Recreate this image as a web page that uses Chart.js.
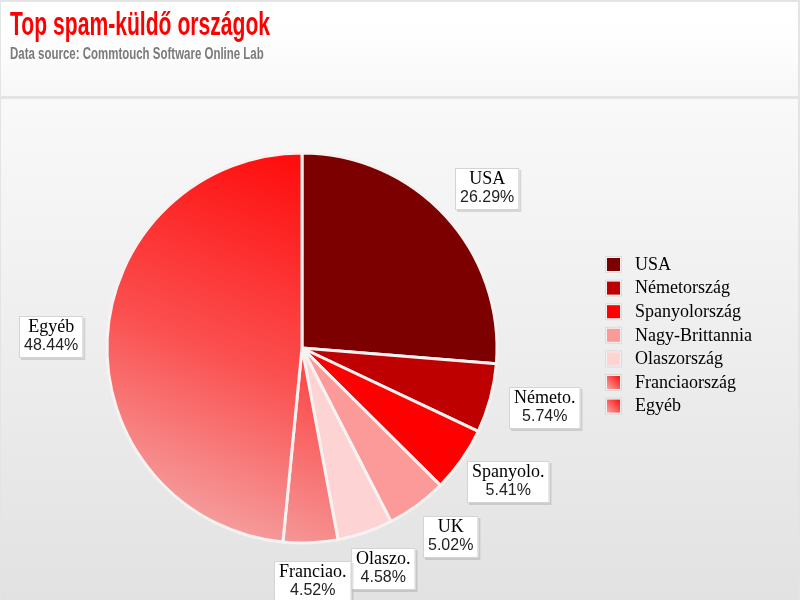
<!DOCTYPE html>
<html>
<head>
<meta charset="utf-8">
<title>Top spam-küldő országok</title>
<script src="https://cdn.jsdelivr.net/npm/chart.js@4/dist/chart.umd.min.js"></script>
<style>
  html, body { margin: 0; padding: 0; background: #fff; }
  #wrap { width: 800px; height: 600px; position: relative; }
</style>
</head>
<body>
<div id="wrap"><canvas id="spamChart" width="800" height="600"></canvas></div>
<script>
'use strict';

const titleText = 'Top spam-küldő országok';
const subtitleText = 'Data source: Commtouch Software Online Lab';

// legend names and short names used in the slice labels
const countries = ['USA', 'Németország', 'Spanyolország', 'Nagy-Brittannia', 'Olaszország', 'Franciaország', 'Egyéb'];
const shortNames = ['USA', 'Németo.', 'Spanyolo.', 'UK', 'Olaszo.', 'Franciao.', 'Egyéb'];
const shares = [26.29, 5.74, 5.41, 5.02, 4.58, 4.52, 48.44];

const solidColors = ['#7d0000', '#be0000', '#ff0000', '#fc9a9a', '#fdd3d3', null, null];

const SERIF = '"Liberation Serif", "DejaVu Serif", serif';
const SANS = '"Liberation Sans", Arial, sans-serif';

// gradient for the last two slices, top-right red to bottom-left pink
function redGradient(ctx, cx, cy, r) {
    let g = ctx.createLinearGradient(cx + r * 0.2, cy - r, cx - r * 0.6, cy + r);
    g.addColorStop(0, '#ff0606');
    g.addColorStop(0.55, '#fb5050');
    g.addColorStop(1, '#f4a8a8');
    return g;
}

function sliceColor(context) {
    let i = context.dataIndex;
    if (solidColors[i]) return solidColors[i];
    let chart = context.chart;
    let area = chart.chartArea;
    if (!area) return '#ff4040';
    let cx = (area.left + area.right) / 2;
    let cy = (area.top + area.bottom) / 2;
    return redGradient(chart.ctx, cx, cy, 194);
}

const backdrop = {
    id: 'backdrop',
    beforeDraw(chart) {
        let ctx = chart.ctx;
        ctx.save();
        // outer frame
        ctx.fillStyle = '#e4e4e4';
        ctx.fillRect(0, 0, 800, 600);
        // header box
        let hg = ctx.createLinearGradient(0, 2, 0, 96);
        hg.addColorStop(0, '#ffffff');
        hg.addColorStop(0.4, '#fefefe');
        hg.addColorStop(1, '#f7f7f7');
        ctx.fillStyle = hg;
        ctx.fillRect(1, 2, 797, 94);
        // plot panel
        let pg = ctx.createLinearGradient(0, 99, 0, 600);
        pg.addColorStop(0, '#f9f9f9');
        pg.addColorStop(1, '#e2e2e2');
        ctx.fillStyle = pg;
        ctx.fillRect(1, 99, 797, 501);

        // title, drawn narrow like the original
        ctx.textBaseline = 'alphabetic';
        ctx.textAlign = 'left';
        ctx.save();
        ctx.translate(10, 35);
        ctx.scale(0.64, 1);
        ctx.font = 'bold 33px ' + SANS;
        ctx.fillStyle = '#ff0000';
        ctx.fillText(titleText, 0, 0);
        ctx.restore();

        ctx.save();
        ctx.translate(10, 59);
        ctx.scale(0.675, 1);
        ctx.font = 'bold 17px ' + SANS;
        ctx.fillStyle = '#7a7a7a';
        ctx.fillText(subtitleText, 0, 0);
        ctx.restore();
        ctx.restore();
    },
};

const sideLegend = {
    id: 'sideLegend',
    afterDraw(chart) {
        let ctx = chart.ctx;
        let meta = chart.getDatasetMeta(0);
        ctx.save();
        countries.forEach((name, i) => {
            let y = 264 + i * 23.6;
            // little square with a soft rim
            ctx.fillStyle = 'rgba(0,0,0,0.08)';
            ctx.fillRect(605, y - 8, 17, 17);
            ctx.fillStyle = '#f6f0f0';
            ctx.fillRect(606, y - 7, 15, 15);
            if (solidColors[i]) {
                ctx.fillStyle = solidColors[i];
            } else {
                let g = ctx.createLinearGradient(620, y - 6, 607, y + 6);
                g.addColorStop(0, '#ff1010');
                g.addColorStop(1, '#f6a0a0');
                ctx.fillStyle = g;
            }
            ctx.fillRect(607, y - 6, 13, 13);
            ctx.fillStyle = '#000';
            ctx.font = '18px ' + SERIF;
            ctx.textAlign = 'left';
            ctx.textBaseline = 'middle';
            ctx.fillText(name, 635, y + 1);
        });
        ctx.restore();

        // slice labels placed on an ellipse around the pie, at each slice's middle angle
        ctx.save();
        meta.data.forEach((arc, i) => {
            let p = arc.getProps(['x', 'y', 'startAngle', 'endAngle', 'outerRadius'], true);
            let mid = (p.startAngle + p.endAngle) / 2;
            let lx = p.x + Math.cos(mid) * p.outerRadius * 1.29;
            let ly = p.y + Math.sin(mid) * p.outerRadius * 1.2;
            let pct = shares[i].toFixed(2) + '%';
            ctx.font = '18px ' + SERIF;
            let w1 = ctx.measureText(shortNames[i]).width;
            ctx.font = '16px ' + SANS;
            let w2 = ctx.measureText(pct).width;
            let w = Math.max(w1, w2) + 10;
            let h = 42;
            let bx = Math.round(lx - w / 2);
            let by = Math.round(ly - h / 2);
            ctx.fillStyle = 'rgba(0,0,0,0.12)';
            ctx.fillRect(bx + 2, by + 2, w, h);
            ctx.fillStyle = '#ffffff';
            ctx.fillRect(bx, by, w, h);
            ctx.strokeStyle = '#d4d4d4';
            ctx.lineWidth = 1;
            ctx.strokeRect(bx + 0.5, by + 0.5, w - 1, h - 1);
            ctx.fillStyle = '#000';
            ctx.textAlign = 'center';
            ctx.textBaseline = 'middle';
            ctx.font = '18px ' + SERIF;
            ctx.fillText(shortNames[i], bx + w / 2, by + 11);
            ctx.fillStyle = '#222';
            ctx.font = '16px ' + SANS;
            ctx.fillText(pct, bx + w / 2, by + 30);
        });
        ctx.restore();
    },
};

new Chart(document.getElementById('spamChart'), {
    type: 'pie',
    data: {
        labels: countries,
        datasets: [{
            data: shares,
            backgroundColor: sliceColor,
            borderColor: '#f6f2f2',
            borderWidth: 3,
            radius: 195,
        }],
    },
    options: {
        responsive: false,
        animation: false,
        layout: {
            padding: { left: 108, right: 304, top: 154, bottom: 58 },
        },
        plugins: {
            legend: { display: false },
            tooltip: { enabled: false },
        },
    },
    plugins: [backdrop, sideLegend],
});
</script>
</body>
</html>
